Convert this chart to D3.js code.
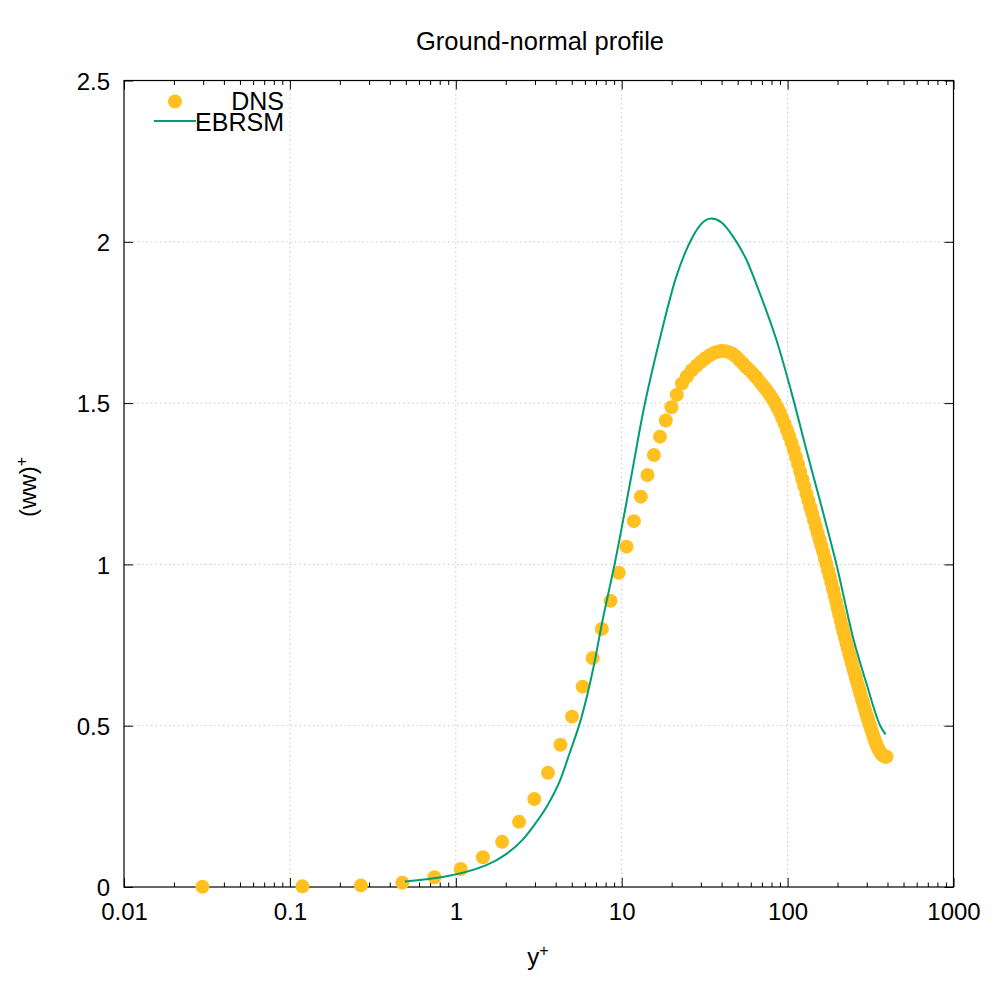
<!DOCTYPE html>
<html>
<head>
<meta charset="utf-8">
<script src="https://cdn.jsdelivr.net/npm/d3@7"></script>
<style>
  body { margin: 0; background: #fff; }
  svg { font-family: "Liberation Sans", Arial, sans-serif; }
</style>
</head>
<body>
<div id="chart"></div>
<script>
// DNS profile (y+ grid points and (ww)+ values)
const dnsYplus = [
  0.0297, 0.119, 0.268, 0.476, 0.744, 1.071, 1.457, 1.902, 2.407, 2.971,
  3.594, 4.275, 5.016, 5.816, 6.674, 7.590, 8.565, 9.598, 10.69, 11.84,
  13.05, 14.31, 15.63, 17.01, 18.44, 19.94, 21.49, 23.09, 24.75, 26.47,
  28.24, 30.07, 31.95, 33.89, 35.88, 37.92, 40.02, 42.17, 44.38, 46.64,
  48.95, 51.32, 53.73, 56.20, 58.71, 61.28, 63.90, 66.57, 69.29, 72.06,
  74.87, 77.73, 80.64, 83.60, 86.60, 89.66, 92.76, 95.90, 99.09, 102.3,
  105.6, 108.9, 112.3, 115.7, 119.1, 122.6, 126.2, 129.7, 133.3, 137.0,
  140.7, 144.4, 148.2, 152.0, 155.8, 159.7, 163.6, 167.6, 171.5, 175.5,
  179.6, 183.7, 187.8, 191.9, 196.1, 200.3, 204.5, 208.8, 213.1, 217.4,
  221.7, 226.1, 230.5, 234.9, 239.4, 243.8, 248.3, 252.8, 257.4, 261.9,
  266.5, 271.1, 275.7, 280.3, 285.0, 289.7, 294.3, 299.0, 303.7, 308.5,
  313.2, 317.9, 322.7, 327.5, 332.3, 337.0, 341.8, 346.7, 351.5, 356.3,
  361.1, 365.9, 370.8, 375.6, 380.5, 385.3, 390.2, 395.0
];
const dnsWW = [
  0.001, 0.002, 0.005, 0.013, 0.030, 0.056, 0.092, 0.140, 0.202, 0.273,
  0.354, 0.441, 0.528, 0.621, 0.710, 0.800, 0.887, 0.974, 1.055, 1.134,
  1.210, 1.277, 1.339, 1.396, 1.446, 1.487, 1.526, 1.561, 1.583, 1.602,
  1.616, 1.628, 1.639, 1.648, 1.655, 1.659, 1.662, 1.661, 1.658, 1.652,
  1.644, 1.633, 1.623, 1.612, 1.603, 1.593, 1.583, 1.572, 1.561, 1.550,
  1.539, 1.527, 1.515, 1.502, 1.487, 1.472, 1.454, 1.436, 1.417, 1.398,
  1.377, 1.356, 1.333, 1.310, 1.287, 1.264, 1.242, 1.219, 1.198, 1.177,
  1.157, 1.136, 1.116, 1.096, 1.077, 1.058, 1.039, 1.020, 1.001, 0.982,
  0.963, 0.943, 0.923, 0.903, 0.884, 0.864, 0.845, 0.826, 0.808, 0.790,
  0.773, 0.756, 0.740, 0.724, 0.709, 0.694, 0.679, 0.664, 0.650, 0.636,
  0.623, 0.609, 0.596, 0.583, 0.571, 0.558, 0.546, 0.534, 0.523, 0.512,
  0.502, 0.491, 0.481, 0.471, 0.462, 0.452, 0.444, 0.436, 0.430, 0.423,
  0.419, 0.414, 0.411, 0.408, 0.407, 0.405, 0.404, 0.404
];

// EBRSM model curve
const ebrsmYplus = [
  0.493, 1.516, 2.001, 2.533, 3.0, 3.597, 4.232, 4.862, 5.717, 6.716,
  7.684, 9.074, 11.33, 13.44, 16.94, 21.36, 24.0, 26.89, 30.0, 34.71,
  40.0, 46.83, 56.38, 67.82, 85.51, 107.6, 129.6, 160.0, 196.6, 249.8,
  297.9, 361.7, 389.4
];
const ebrsmWW = [
  0.017, 0.067, 0.101, 0.147, 0.195, 0.256, 0.328, 0.416, 0.525, 0.674,
  0.829, 1.002, 1.263, 1.470, 1.697, 1.893, 1.963, 2.017, 2.054, 2.072,
  2.060, 2.017, 1.945, 1.842, 1.697, 1.517, 1.356, 1.180, 1.002, 0.767,
  0.633, 0.500, 0.473
];

const xTicks = [0.01, 0.1, 1, 10, 100, 1000];
const xTickLabels = ["0.01", "0.1", "1", "10", "100", "1000"];
const yTicks = [0, 0.5, 1, 1.5, 2, 2.5];
const yTickLabels = ["0", "0.5", "1", "1.5", "2", "2.5"];

const width = 1000;
const height = 1000;
const margin = { top: 80.5, right: 46.5, bottom: 113, left: 124 };
const iw = width - margin.left - margin.right;
const ih = height - margin.top - margin.bottom;

const dnsColor = "#ffc020";
const ebrsmColor = "#009e73";

const x = d3.scaleLog().domain([0.01, 1000]).range([0, iw]);
const y = d3.scaleLinear().domain([0, 2.5]).range([ih, 0]);

const svg = d3.select("#chart")
  .append("svg")
  .attr("width", width)
  .attr("height", height);

const g = svg.append("g")
  .attr("transform", `translate(${margin.left},${margin.top})`);

// minor tick positions: 2..9 in every decade
const minorTicks = [];
xTicks.slice(0, -1).forEach(d => {
  for (let k = 2; k <= 9; k++) minorTicks.push(d * k);
});

// dotted grid at major ticks
g.append("g")
  .selectAll("line")
  .data(xTicks.slice(1, -1))
  .enter().append("line")
  .attr("x1", d => x(d)).attr("x2", d => x(d))
  .attr("y1", 0).attr("y2", ih)
  .attr("stroke", "#c8c8c8")
  .attr("stroke-width", 1)
  .attr("stroke-dasharray", "1.5,3");

g.append("g")
  .selectAll("line")
  .data(yTicks.slice(1, -1))
  .enter().append("line")
  .attr("x1", 0).attr("x2", iw)
  .attr("y1", d => y(d)).attr("y2", d => y(d))
  .attr("stroke", "#c8c8c8")
  .attr("stroke-width", 1)
  .attr("stroke-dasharray", "1.5,3");

// axes: ticks drawn inward on all four sides
const fmtX = d => xTickLabels[xTicks.indexOf(d)];
const fmtY = d => yTickLabels[yTicks.indexOf(d)];

const bottomAxis = g.append("g")
  .attr("transform", `translate(0,${ih})`)
  .call(d3.axisBottom(x).tickValues(xTicks).tickFormat(fmtX).tickSizeInner(-9).tickSizeOuter(0).tickPadding(16));

g.append("g")
  .attr("transform", `translate(0,${ih})`)
  .call(d3.axisBottom(x).tickValues(minorTicks).tickFormat("").tickSizeInner(-4.5).tickSizeOuter(0));

g.append("g")
  .call(d3.axisTop(x).tickValues(xTicks).tickFormat("").tickSizeInner(-9).tickSizeOuter(0));

g.append("g")
  .call(d3.axisTop(x).tickValues(minorTicks).tickFormat("").tickSizeInner(-4.5).tickSizeOuter(0));

const leftAxis = g.append("g")
  .call(d3.axisLeft(y).tickValues(yTicks).tickFormat(fmtY).tickSizeInner(-9).tickSizeOuter(0).tickPadding(14));

g.append("g")
  .attr("transform", `translate(${iw},0)`)
  .call(d3.axisRight(y).tickValues(yTicks).tickFormat("").tickSizeInner(-9).tickSizeOuter(0));

g.selectAll(".domain").remove();
g.selectAll(".tick line").attr("stroke", "#000").attr("stroke-width", 1);
g.selectAll(".tick text").attr("fill", "#000").style("font-size", "24px");
bottomAxis.selectAll(".tick text").attr("dy", "0.71em");
leftAxis.selectAll(".tick text").attr("dy", "0.36em");

// frame
g.append("rect")
  .attr("width", iw)
  .attr("height", ih)
  .attr("fill", "none")
  .attr("stroke", "#000")
  .attr("stroke-width", 1.2);

// DNS points
g.append("g")
  .selectAll("circle")
  .data(dnsYplus)
  .enter().append("circle")
  .attr("cx", d => x(d))
  .attr("cy", (d, i) => y(dnsWW[i]))
  .attr("r", 7)
  .attr("fill", dnsColor);

// EBRSM line
const line = d3.line()
  .x(d => x(d))
  .y((d, i) => y(ebrsmWW[i]))
  .curve(d3.curveMonotoneX);

g.append("path")
  .attr("d", line(ebrsmYplus))
  .attr("fill", "none")
  .attr("stroke", ebrsmColor)
  .attr("stroke-width", 2);

// legend
const legend = svg.append("g");
legend.append("circle")
  .attr("cx", 175).attr("cy", 101.5).attr("r", 7)
  .attr("fill", dnsColor);
legend.append("text")
  .attr("x", 284).attr("y", 110)
  .attr("text-anchor", "end")
  .style("font-size", "25px")
  .text("DNS");
legend.append("line")
  .attr("x1", 154).attr("x2", 196)
  .attr("y1", 121).attr("y2", 121)
  .attr("stroke", ebrsmColor)
  .attr("stroke-width", 2);
legend.append("text")
  .attr("x", 284).attr("y", 130.5)
  .attr("text-anchor", "end")
  .style("font-size", "25px")
  .text("EBRSM");

// title and axis labels
svg.append("text")
  .attr("x", 540).attr("y", 50)
  .attr("text-anchor", "middle")
  .style("font-size", "25.5px")
  .text("Ground-normal profile");

const xl = svg.append("text")
  .attr("x", 538).attr("y", 965)
  .attr("text-anchor", "middle")
  .style("font-size", "24px");
xl.append("tspan").text("y");
xl.append("tspan").attr("dy", "-0.55em").style("font-size", "16px").text("+");

const yl = svg.append("text")
  .attr("transform", "translate(36,487) rotate(-90)")
  .attr("text-anchor", "middle")
  .style("font-size", "24px");
yl.append("tspan").text("(ww)");
yl.append("tspan").attr("dy", "-0.55em").style("font-size", "16px").text("+");
</script>
</body>
</html>
